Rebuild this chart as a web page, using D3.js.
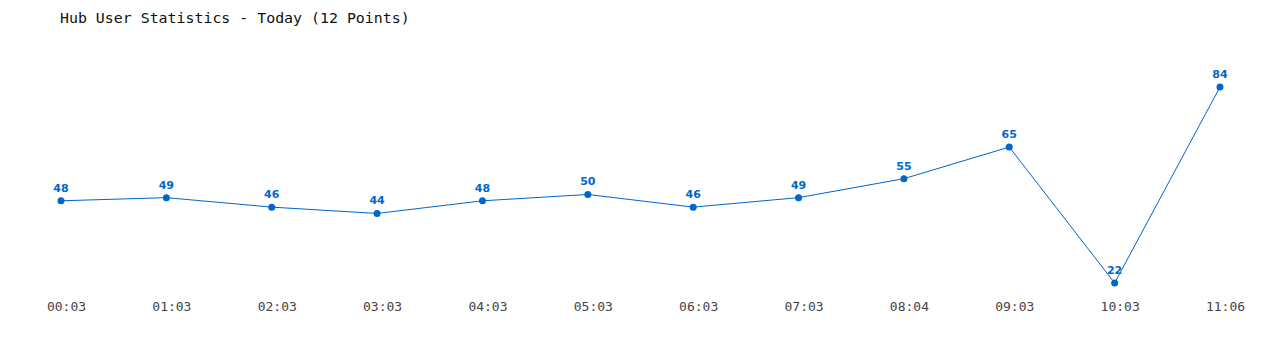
<!DOCTYPE html>
<html>
<head>
<meta charset="utf-8">
<script src="https://cdn.jsdelivr.net/npm/d3@7"></script>
<style>
  body { margin: 0; background: #fff; }
  .title { font-family: "DejaVu Sans Mono", monospace; font-size: 14.9px; fill: #111; }
  .tick-label { font-family: "DejaVu Sans Mono", monospace; font-size: 13px; fill: #444; }
  .val-label { font-family: "DejaVu Sans", sans-serif; font-size: 11px; font-weight: bold; fill: #0066cc; }
</style>
</head>
<body>
<div class="chart"></div>
<script>
// data
var times = ["00:03", "01:03", "02:03", "03:03", "04:03", "05:03", "06:03", "07:03", "08:04", "09:03", "10:03", "11:06"];
var users = [48, 49, 46, 44, 48, 50, 46, 49, 55, 65, 22, 84];

var svgWidth = 1280;
var svgHeight = 350;

var svg = d3.select(".chart")
  .append("svg")
  .attr("width", svgWidth)
  .attr("height", svgHeight);

// scales
var xScale = d3.scalePoint().domain(times).range([61, 1220]);
var yScale = d3.scaleLinear().domain([22, 84]).range([283, 87]);

var points = times.map(function(t, i) { return { time: t, value: users[i] }; });

// title
svg.append("text")
  .attr("class", "title")
  .attr("x", 60)
  .attr("y", 23)
  .text("Hub User Statistics - Today (" + users.length + " Points)");

// line
var line = d3.line()
  .x(function(d) { return xScale(d.time); })
  .y(function(d) { return yScale(d.value); });

svg.append("path")
  .datum(points)
  .attr("fill", "none")
  .attr("stroke", "#0066cc")
  .attr("stroke-width", 1)
  .attr("d", line);

// dots
svg.selectAll("circle")
  .data(points)
  .enter()
  .append("circle")
  .attr("cx", function(d) { return xScale(d.time); })
  .attr("cy", function(d) { return yScale(d.value); })
  .attr("r", 3.5)
  .attr("fill", "#0066cc");

// value labels
svg.selectAll(".val-label")
  .data(points)
  .enter()
  .append("text")
  .attr("class", "val-label")
  .attr("text-anchor", "middle")
  .attr("x", function(d) { return xScale(d.time); })
  .attr("y", function(d) { return yScale(d.value) - 9; })
  .text(function(d) { return d.value; });

// x axis labels
var xAxis = d3.axisBottom(xScale).tickSize(0).tickPadding(0);
var gx = svg.append("g")
  .attr("transform", "translate(5,302)")
  .call(xAxis);
gx.select(".domain").remove();
gx.selectAll("text")
  .attr("class", "tick-label")
  .attr("dy", "0.71em")
  .attr("font-family", null)
  .attr("font-size", null)
  .attr("fill", null);
</script>
</body>
</html>
